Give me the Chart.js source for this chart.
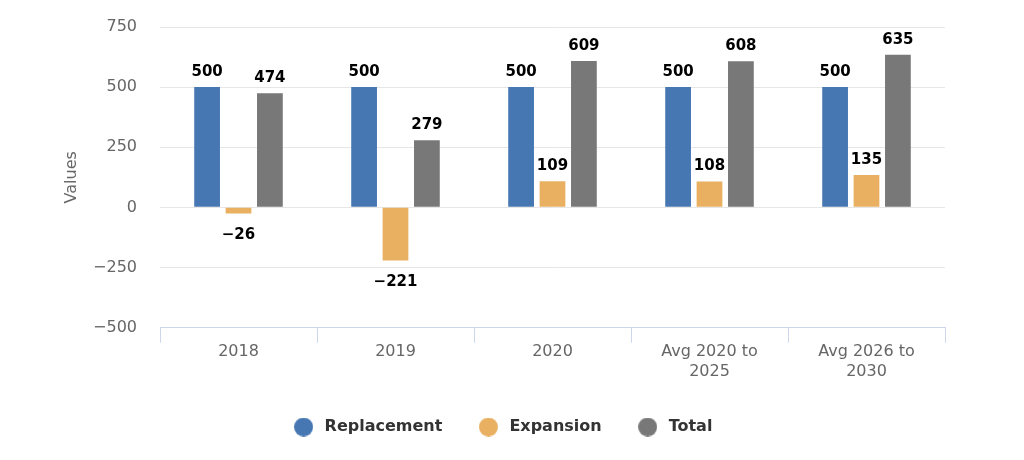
<!DOCTYPE html>
<html>
<head>
<meta charset="utf-8">
<script src="https://cdn.jsdelivr.net/npm/chart.js@4/dist/chart.umd.min.js"></script>
<style>
  html, body { margin: 0; padding: 0; background: #fff; }
  #wrap { width: 1024px; height: 460px; }
</style>
</head>
<body>
<div id="wrap"><canvas id="chart" width="1024" height="460"></canvas></div>
<script>
// chart values
const categories  = [['2018'], ['2019'], ['2020'], ['Avg 2020 to', '2025'], ['Avg 2026 to', '2030']];
const replacement = [500, 500, 500, 500, 500];
const expansion   = [-26, -221, 109, 108, 135];
const total       = [474, 279, 609, 608, 635];
const yTicks      = [-500, -250, 0, 250, 500, 750];

const FONT = 'DejaVu Sans';
const minus = v => String(v).replace('-', '\u2212');

// small round legend markers (19px), drawn once per colour
function dot(color) {
  const c = document.createElement('canvas');
  c.width = 19; c.height = 19;
  const g = c.getContext('2d');
  g.fillStyle = color;
  g.beginPath(); g.arc(9.5, 9.5, 9.5, 0, Math.PI * 2); g.fill();
  return c;
}

// value labels above / below each bar
const barLabels = {
  id: 'barLabels',
  afterDatasetsDraw(chart) {
    const ctx = chart.ctx;
    ctx.save();
    ctx.font = 'bold 15px "' + FONT + '"';
    ctx.fillStyle = '#000';
    ctx.textAlign = 'center';
    ctx.textBaseline = 'alphabetic';
    chart.data.datasets.forEach((ds, i) => {
      const meta = chart.getDatasetMeta(i);
      if (meta.hidden) return;
      meta.data.forEach((bar, j) => {
        const v = ds.data[j];
        const y = v >= 0 ? bar.y - 11 : bar.y + 25;
        ctx.fillText(minus(v), bar.x, y);
      });
    });
    ctx.restore();
  }
};

new Chart(document.getElementById('chart').getContext('2d'), {
  type: 'bar',
  data: {
    labels: categories,
    datasets: [
      { label: 'Replacement', data: replacement, backgroundColor: '#4677b2' },
      { label: 'Expansion',   data: expansion,   backgroundColor: '#e8b060' },
      { label: 'Total',       data: total,       backgroundColor: '#787878' }
    ]
  },
  options: {
    responsive: false,
    animation: false,
    categoryPercentage: 0.6,
    barPercentage: 0.82,
    layout: { padding: { left: 58, right: 79, top: 27, bottom: 15 } },
    plugins: {
      tooltip: { enabled: false },
      legend: {
        position: 'bottom',
        labels: {
          usePointStyle: true,
          pointStyleWidth: 26,
          boxHeight: 16,
          padding: 33,
          color: '#333',
          font: { family: FONT, size: 16, weight: 'bold' },
          generateLabels: chart =>
            Chart.defaults.plugins.legend.labels.generateLabels(chart)
              .map(item => Object.assign(item, { pointStyle: dot(item.fillStyle) }))
        }
      }
    },
    scales: {
      x: {
        afterFit: axis => { axis.height += 5; },
        grid: { display: true, drawOnChartArea: false, color: '#ccd6eb', tickLength: 15, offset: true },
        border: { display: true, color: '#ccd6eb' },
        ticks: { color: '#666', padding: 0, font: { family: FONT, size: 16 } }
      },
      y: {
        min: yTicks[0],
        max: yTicks[yTicks.length - 1],
        afterBuildTicks: axis => { axis.ticks = yTicks.map(v => ({ value: v })); },
        afterFit: axis => { axis.width = 160 - 58; axis.paddingTop = 0; axis.paddingBottom = 0; },
        grid: { color: '#e6e6e6', drawTicks: false },
        border: { display: false },
        ticks: { color: '#666', padding: 23, font: { family: FONT, size: 16 }, callback: v => minus(v) },
        title: { display: true, text: 'Values', color: '#666', padding: { top: 4, bottom: 0 }, font: { family: FONT, size: 16 } }
      }
    }
  },
  plugins: [barLabels]
});
</script>
</body>
</html>
